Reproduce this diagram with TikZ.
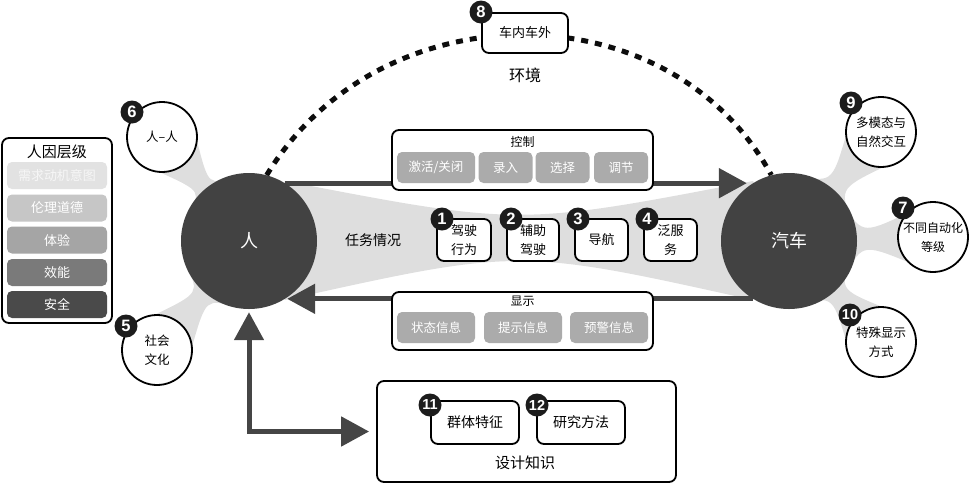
\documentclass[tikz,border=0pt]{standalone}
\usepackage{fontspec}
\setmainfont{Noto Sans CJK SC}
\newfontfamily\numfont{Liberation Sans}
\usetikzlibrary{arrows.meta,calc}
\definecolor{dark}{HTML}{424242}
\definecolor{arrowc}{HTML}{454545}
\definecolor{blobg}{HTML}{DEDEDE}
\definecolor{subg}{HTML}{ABABAB}
\definecolor{badgec}{HTML}{1C1C1C}
\definecolor{lvA}{HTML}{E2E2E2}
\definecolor{lvB}{HTML}{C6C6C6}
\definecolor{lvC}{HTML}{A5A5A5}
\definecolor{lvD}{HTML}{7A7A7A}
\definecolor{lvE}{HTML}{4A4A4A}
\definecolor{lvAt}{HTML}{F6F6F6}
\pgfdeclarelayer{bg}
\pgfdeclarelayer{mid}
\pgfsetlayers{bg,mid,main}
\newcommand{\fs}[2]{\fontsize{#1}{#2}\selectfont}
\newcommand{\blob}[6]{%
  \coordinate (bm) at ($(#1.center)!0.5!(#3.center)$);
  \fill[blobg] ($(#1.center)!#2pt!-45:(#3.center)$)
    .. controls ($(bm)!#5pt!-90:(#3.center)$) .. ($(#3.center)!#4pt!#6:(#1.center)$)
    -- ($(#3.center)!#4pt!-#6:(#1.center)$)
    .. controls ($(bm)!#5pt!90:(#3.center)$) .. ($(#1.center)!#2pt!45:(#3.center)$)
    -- cycle;}
\tikzset{
  bighead/.tip={Triangle[length=28pt,width=29pt]},
  bigc/.style={circle, fill=dark, minimum size=136pt, inner sep=0pt, text=white, font=\fs{18}{22}},
  smc/.style={circle, draw=black, line width=1.8pt, fill=white, minimum size=70pt, inner sep=0pt, align=center, font=\fs{12.5}{19}},
  badge/.style={circle, fill=badgec, minimum size=23pt, inner sep=0pt, text=white, font=\numfont\bfseries\fs{16.5}{16}},
  badgew/.style={badge, font=\numfont\bfseries\fs{14.5}{14}},
  rbox/.style={draw=black, line width=1.8pt, fill=white, rounded corners=7pt, inner sep=0pt},
  gbox/.style={fill=subg, rounded corners=5pt, text=white, inner sep=0pt, minimum height=31pt, font=\fs{12.5}{15}},
  tbox/.style={rbox, minimum height=42pt, align=center, font=\fs{13}{19}},
  kbox/.style={rbox, minimum width=88pt, minimum height=43pt, font=\fs{14}{16}},
  lvl/.style={rounded corners=5pt, minimum width=100pt, minimum height=27pt, inner sep=0pt, text=white, font=\fs{13}{15}},
  fat/.style={draw=arrowc, line width=5pt},
  dotline/.style={draw=black!95, line width=5pt, dash pattern=on 7pt off 7pt},
  lbl/.style={inner sep=0pt}
}
\begin{document}
\begin{tikzpicture}[x=1pt,y=-1pt]
\useasboundingbox (0,0) rectangle (970,483);

% main circles
\node[bigc] (ren) at (249,241) {人};
\node[bigc] (car) at (789,241) {汽车};

% small circles
\node[smc] (c6) at (162,137) {人–人};
\node[smc] (c5) at (157,350) {社会\\文化};
\node[smc] (c9) at (881,132) {多模态与\\自然交互};
\node[smc, font=\fs{12}{19}] (c7) at (933,237) {不同自动化\\等级};
\node[smc] (c10) at (881,342) {特殊显示\\方式};

\node[badge] (b6) at (132,112) {6};
\node[badge] (b5) at (126,326) {5};
\node[badge] (b9) at (851,103) {9};
\node[badge] (b7) at (903,208) {7};
\node[badgew] (b10) at (850,315) {10};

% environment
\node[rbox, minimum width=86pt, minimum height=40pt, font=\fs{13}{15}] (env) at (525,33) {车内车外};
\node[badge] (b8) at (481,12) {8};
\node[lbl, font=\fs{16}{18}] (envt) at (525,75) {环境};

% control box
\node[rbox, minimum width=261pt, minimum height=60pt] (ctrl) at (522.5,160) {};
\node[lbl, font=\fs{12}{14}] (ctrlt) at (522.5,142) {控制};
\node[gbox, minimum width=78pt] (g1) at (436,167.5) {激活/关闭};
\node[gbox, minimum width=54pt] (g2) at (505.5,167.5) {录入};
\node[gbox, minimum width=54pt] (g3) at (562.5,167.5) {选择};
\node[gbox, minimum width=54pt] (g4) at (621,167.5) {调节};

% display box
\node[rbox, minimum width=261pt, minimum height=58pt] (disp) at (522.5,321) {};
\node[lbl, font=\fs{12}{14}] (dispt) at (522.5,301) {显示};
\node[gbox, minimum width=78pt] (h1) at (436,327.5) {状态信息};
\node[gbox, minimum width=78pt] (h2) at (523,327.5) {提示信息};
\node[gbox, minimum width=78pt] (h3) at (609,327.5) {预警信息};

% task
\node[lbl, font=\fs{14}{16}] (task) at (373,240) {任务情况};
\node[tbox, minimum width=54pt] (t1) at (464,240) {驾驶\\行为};
\node[tbox, minimum width=52pt] (t2) at (533,240) {辅助\\驾驶};
\node[tbox, minimum width=53pt] (t3) at (601.5,240) {导航};
\node[tbox, minimum width=53pt] (t4) at (670.5,240) {泛服\\务};
\node[badge] (b1) at (442,219) {1};
\node[badge] (b2) at (511,219) {2};
\node[badge] (b3) at (578,219) {3};
\node[badge] (b4) at (647,219) {4};

% knowledge
\node[rbox, minimum width=299pt, minimum height=101pt] (kn) at (526.5,431.5) {};
\node[kbox] (k1) at (475,422.5) {群体特征};
\node[kbox] (k2) at (581,422.5) {研究方法};
\node[badgew] (b11) at (430,405) {11};
\node[badgew] (b12) at (537,405) {12};
\node[lbl, font=\fs{15}{17}] (knt) at (525,463) {设计知识};

% levels panel
\node[rbox, minimum width=110pt, minimum height=185pt] (lv) at (57,230.5) {};
\node[lbl, font=\fs{15}{17}] (lvt) at (57,152) {人因层级};
\node[lvl, fill=lvA, text=lvAt] (l1) at (57,175.5) {需求动机意图};
\node[lvl, fill=lvB] (l2) at (57,208) {伦理道德};
\node[lvl, fill=lvC] (l3) at (57,240) {体验};
\node[lvl, fill=lvD] (l4) at (57,272.5) {效能};
\node[lvl, fill=lvE] (l5) at (57,304.5) {安全};

% background shapes
\begin{pgfonlayer}{bg}
  \fill[blobg] (ren.center) -- ($(ren.center)+(36,-60)$)
     .. controls (519,226) .. ($(car.center)+(-36,-60)$) -- (car.center)
     -- ($(car.center)+(-36,59)$)
     .. controls (519,248) .. ($(ren.center)+(36,59)$) -- cycle;
  \blob{c6}{35}{ren}{68}{4}{30}
  \blob{c5}{35}{ren}{68}{4}{30}
  \blob{c9}{35}{car}{68}{4}{40}
  \blob{c7}{35}{car}{68}{4}{40}
  \blob{c10}{35}{car}{68}{4}{40}
\end{pgfonlayer}

\begin{pgfonlayer}{mid}
  \draw[dotline] (ren.75) .. controls (380,-12) and (670,-12) .. (car.105);
  \draw[fat, -bighead, shorten >=6pt] (ren.58) -- (car.122);
  \draw[fat, -bighead, shorten >=2pt] (car.238) -- (ren.302);
  \draw[fat, bighead-bighead, shorten <=3pt, shorten >=7pt] (ren.south) |- (kn.west);
\end{pgfonlayer}
\end{tikzpicture}
\end{document}
